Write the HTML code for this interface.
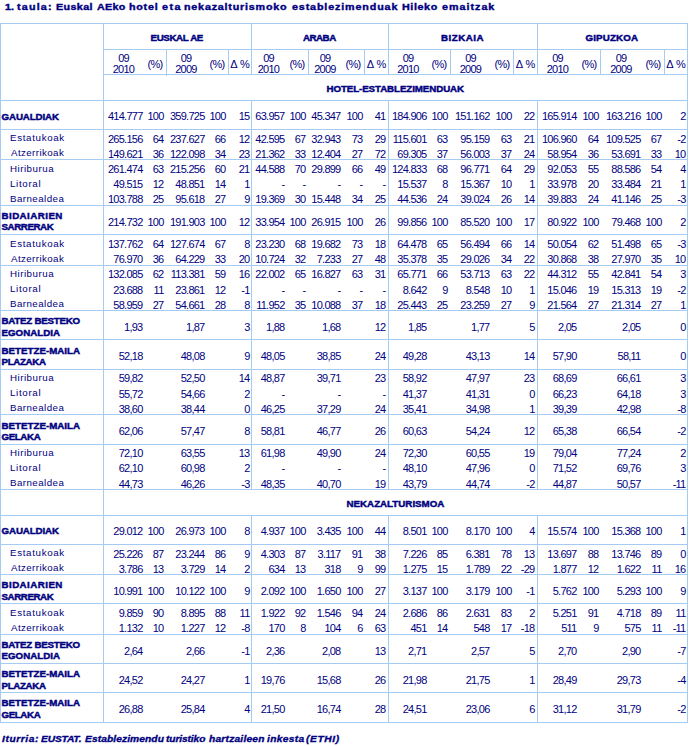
<!DOCTYPE html>
<html><head><meta charset="utf-8"><title>1. taula</title>
<style>
html,body{margin:0;padding:0;background:#fff;}
body{width:690px;height:746px;position:relative;overflow:hidden;font-family:"Liberation Sans",sans-serif;color:#000080;}
i{position:absolute;display:block;background:#a6cbf3;}
b{position:absolute;white-space:nowrap;font-size:11px;line-height:15px;font-weight:normal;}
b.ln{font-size:9.75px;}
b.lb{font-size:9.75px;font-weight:bold;-webkit-text-stroke-width:0.45px;}
b.title{font-size:9.75px;font-weight:bold;-webkit-text-stroke-width:0.4px;transform:scaleX(1.1);transform-origin:0 0;}
b.foot{font-size:9.75px;font-weight:bold;font-style:italic;-webkit-text-stroke-width:0.35px;transform:scaleX(1.05);transform-origin:0 0;}
</style></head><body>
<i style="left:0px;top:23px;width:688px;height:1px"></i>
<i style="left:1px;top:722px;width:687px;height:1px"></i>
<i style="left:0px;top:23px;width:1px;height:699px"></i>
<i style="left:687px;top:23px;width:1px;height:700px"></i>
<i style="left:103px;top:23px;width:1px;height:700px"></i>
<i style="left:251px;top:23px;width:1px;height:51px"></i>
<i style="left:251px;top:100px;width:1px;height:389px"></i>
<i style="left:251px;top:515px;width:1px;height:207px"></i>
<i style="left:388px;top:23px;width:1px;height:51px"></i>
<i style="left:388px;top:100px;width:1px;height:389px"></i>
<i style="left:388px;top:515px;width:1px;height:207px"></i>
<i style="left:537px;top:23px;width:1px;height:51px"></i>
<i style="left:537px;top:100px;width:1px;height:389px"></i>
<i style="left:537px;top:515px;width:1px;height:207px"></i>
<i style="left:103px;top:49px;width:585px;height:1px"></i>
<i style="left:103px;top:74px;width:585px;height:1px"></i>
<i style="left:0px;top:100px;width:688px;height:1px"></i>
<i style="left:166px;top:49px;width:1px;height:27px"></i>
<i style="left:228px;top:49px;width:1px;height:26px"></i>
<i style="left:308px;top:49px;width:1px;height:26px"></i>
<i style="left:364px;top:49px;width:1px;height:26px"></i>
<i style="left:450px;top:49px;width:1px;height:26px"></i>
<i style="left:513px;top:49px;width:1px;height:26px"></i>
<i style="left:600px;top:49px;width:1px;height:26px"></i>
<i style="left:664px;top:49px;width:1px;height:26px"></i>
<i style="left:0px;top:129px;width:688px;height:1px"></i>
<i style="left:0px;top:159px;width:688px;height:1px"></i>
<i style="left:0px;top:205px;width:688px;height:1px"></i>
<i style="left:0px;top:234px;width:688px;height:1px"></i>
<i style="left:0px;top:265px;width:688px;height:1px"></i>
<i style="left:0px;top:310px;width:688px;height:1px"></i>
<i style="left:0px;top:339px;width:688px;height:1px"></i>
<i style="left:0px;top:369px;width:688px;height:1px"></i>
<i style="left:0px;top:414px;width:688px;height:1px"></i>
<i style="left:0px;top:444px;width:688px;height:1px"></i>
<i style="left:0px;top:489px;width:688px;height:1px"></i>
<i style="left:0px;top:544px;width:688px;height:1px"></i>
<i style="left:0px;top:574px;width:688px;height:1px"></i>
<i style="left:0px;top:603px;width:688px;height:1px"></i>
<i style="left:0px;top:634px;width:688px;height:1px"></i>
<i style="left:0px;top:663px;width:688px;height:1px"></i>
<i style="left:0px;top:692px;width:688px;height:1px"></i>
<i style="left:0px;top:722px;width:688px;height:1px"></i>
<i style="left:0px;top:489px;width:688px;height:1px"></i>
<i style="left:0px;top:515px;width:688px;height:1px"></i>
<b class="title" style="top:-1px;letter-spacing:0.000px;left:5px;">1.</b>
<b class="title" style="top:-1px;letter-spacing:1.091px;left:17px;">taula:</b>
<b class="title" style="top:-1px;letter-spacing:0.364px;left:56px;">Euskal</b>
<b class="title" style="top:-1px;letter-spacing:0.303px;left:97px;">AEko</b>
<b class="title" style="top:-1px;letter-spacing:0.682px;left:129px;">hotel</b>
<b class="title" style="top:-1px;letter-spacing:1.364px;left:162px;">eta</b>
<b class="title" style="top:-1px;letter-spacing:0.727px;left:184px;">nekazalturismoko</b>
<b class="title" style="top:-1px;letter-spacing:0.788px;left:292px;">establezimenduak</b>
<b class="title" style="top:-1px;letter-spacing:0.545px;left:402px;">Hileko</b>
<b class="title" style="top:-1px;letter-spacing:0.909px;left:442px;">emaitzak</b>
<b class="foot" style="top:731px;letter-spacing:0.544px;left:2px;">Iturria:</b>
<b class="foot" style="top:731px;letter-spacing:-0.159px;left:41px;">EUSTAT.</b>
<b class="foot" style="top:731px;letter-spacing:0.073px;left:85px;">Establezimendu</b>
<b class="foot" style="top:731px;letter-spacing:-0.119px;left:166px;">turistiko</b>
<b class="foot" style="top:731px;letter-spacing:0.190px;left:209px;">hartzaileen</b>
<b class="foot" style="top:731px;letter-spacing:0.317px;left:267px;">inkesta</b>
<b class="foot" style="top:731px;letter-spacing:0.571px;left:306px;">(ETHI)</b>
<b class="lb" style="top:30px;letter-spacing:-0.375px;left:150.5px;">EUSKAL AE</b>
<b style="top:51px;left:73.5px;width:100px;text-align:center;letter-spacing:-0.75px;">09</b>
<b style="top:62px;left:73.5px;width:100px;text-align:center;letter-spacing:-0.75px;">2010</b>
<b style="top:57px;left:104.9px;width:100px;text-align:center;letter-spacing:-0.8px;">(%)</b>
<b style="top:51px;left:136.0px;width:100px;text-align:center;letter-spacing:-0.75px;">09</b>
<b style="top:62px;left:136.0px;width:100px;text-align:center;letter-spacing:-0.75px;">2009</b>
<b style="top:57px;left:166.9px;width:100px;text-align:center;letter-spacing:-0.8px;">(%)</b>
<b style="top:57px;left:190.0px;width:100px;text-align:center;">&Delta; %</b>
<b class="lb" style="top:30px;letter-spacing:-0.500px;left:303.0px;">ARABA</b>
<b style="top:51px;left:218.5px;width:100px;text-align:center;letter-spacing:-0.75px;">09</b>
<b style="top:62px;left:218.5px;width:100px;text-align:center;letter-spacing:-0.75px;">2010</b>
<b style="top:57px;left:246.9px;width:100px;text-align:center;letter-spacing:-0.8px;">(%)</b>
<b style="top:51px;left:275.0px;width:100px;text-align:center;letter-spacing:-0.75px;">09</b>
<b style="top:62px;left:275.0px;width:100px;text-align:center;letter-spacing:-0.75px;">2009</b>
<b style="top:57px;left:302.9px;width:100px;text-align:center;letter-spacing:-0.8px;">(%)</b>
<b style="top:57px;left:326.5px;width:100px;text-align:center;">&Delta; %</b>
<b class="lb" style="top:30px;letter-spacing:0.500px;left:441.0px;">BIZKAIA</b>
<b style="top:51px;left:358.0px;width:100px;text-align:center;letter-spacing:-0.75px;">09</b>
<b style="top:62px;left:358.0px;width:100px;text-align:center;letter-spacing:-0.75px;">2010</b>
<b style="top:57px;left:388.9px;width:100px;text-align:center;letter-spacing:-0.8px;">(%)</b>
<b style="top:51px;left:420.5px;width:100px;text-align:center;letter-spacing:-0.75px;">09</b>
<b style="top:62px;left:420.5px;width:100px;text-align:center;letter-spacing:-0.75px;">2009</b>
<b style="top:57px;left:451.9px;width:100px;text-align:center;letter-spacing:-0.8px;">(%)</b>
<b style="top:57px;left:475.5px;width:100px;text-align:center;">&Delta; %</b>
<b class="lb" style="top:30px;letter-spacing:0.143px;left:585.5px;">GIPUZKOA</b>
<b style="top:51px;left:507.5px;width:100px;text-align:center;letter-spacing:-0.75px;">09</b>
<b style="top:62px;left:507.5px;width:100px;text-align:center;letter-spacing:-0.75px;">2010</b>
<b style="top:57px;left:538.9px;width:100px;text-align:center;letter-spacing:-0.8px;">(%)</b>
<b style="top:51px;left:571.0px;width:100px;text-align:center;letter-spacing:-0.75px;">09</b>
<b style="top:62px;left:571.0px;width:100px;text-align:center;letter-spacing:-0.75px;">2009</b>
<b style="top:57px;left:602.9px;width:100px;text-align:center;letter-spacing:-0.8px;">(%)</b>
<b style="top:57px;left:626.0px;width:100px;text-align:center;">&Delta; %</b>
<b class="lb" style="top:81px;letter-spacing:-0.095px;left:326.5px;">HOTEL-ESTABLEZIMENDUAK</b>
<b class="lb" style="top:496px;letter-spacing:0.000px;left:346.5px;">NEKAZALTURISMOA</b>
<b class="lb" style="top:109px;letter-spacing:-0.125px;left:1.5px;">GAUALDIAK</b>
<b style="top:109px;right:547.5px;text-align:right;letter-spacing:-0.75px;">414.777</b>
<b style="top:109px;right:526.5px;text-align:right;letter-spacing:-0.75px;">100</b>
<b style="top:109px;right:485.5px;text-align:right;letter-spacing:-0.75px;">359.725</b>
<b style="top:109px;right:464.5px;text-align:right;letter-spacing:-0.75px;">100</b>
<b style="top:109px;right:440.5px;text-align:right;letter-spacing:-0.75px;">15</b>
<b style="top:109px;right:405.5px;text-align:right;letter-spacing:-0.75px;">63.957</b>
<b style="top:109px;right:384.5px;text-align:right;letter-spacing:-0.75px;">100</b>
<b style="top:109px;right:349.5px;text-align:right;letter-spacing:-0.75px;">45.347</b>
<b style="top:109px;right:327.5px;text-align:right;letter-spacing:-0.75px;">100</b>
<b style="top:109px;right:304.5px;text-align:right;letter-spacing:-0.75px;">41</b>
<b style="top:109px;right:263.5px;text-align:right;letter-spacing:-0.75px;">184.906</b>
<b style="top:109px;right:242.5px;text-align:right;letter-spacing:-0.75px;">100</b>
<b style="top:109px;right:200.5px;text-align:right;letter-spacing:-0.75px;">151.162</b>
<b style="top:109px;right:178.5px;text-align:right;letter-spacing:-0.75px;">100</b>
<b style="top:109px;right:155.5px;text-align:right;letter-spacing:-0.75px;">22</b>
<b style="top:109px;right:113.5px;text-align:right;letter-spacing:-0.75px;">165.914</b>
<b style="top:109px;right:91.5px;text-align:right;letter-spacing:-0.75px;">100</b>
<b style="top:109px;right:49.5px;text-align:right;letter-spacing:-0.75px;">163.216</b>
<b style="top:109px;right:28.5px;text-align:right;letter-spacing:-0.75px;">100</b>
<b style="top:109px;right:4.5px;text-align:right;letter-spacing:-0.75px;">2</b>
<b class="ln" style="top:130px;letter-spacing:0.667px;left:10px;">Estatukoak</b>
<b class="ln" style="top:145px;letter-spacing:0.400px;left:11px;">Atzerrikoak</b>
<b style="top:132px;right:547.5px;text-align:right;letter-spacing:-0.75px;">265.156</b>
<b style="top:132px;right:526.5px;text-align:right;letter-spacing:-0.75px;">64</b>
<b style="top:132px;right:485.5px;text-align:right;letter-spacing:-0.75px;">237.627</b>
<b style="top:132px;right:464.5px;text-align:right;letter-spacing:-0.75px;">66</b>
<b style="top:132px;right:440.5px;text-align:right;letter-spacing:-0.75px;">12</b>
<b style="top:132px;right:405.5px;text-align:right;letter-spacing:-0.75px;">42.595</b>
<b style="top:132px;right:384.5px;text-align:right;letter-spacing:-0.75px;">67</b>
<b style="top:132px;right:349.5px;text-align:right;letter-spacing:-0.75px;">32.943</b>
<b style="top:132px;right:327.5px;text-align:right;letter-spacing:-0.75px;">73</b>
<b style="top:132px;right:304.5px;text-align:right;letter-spacing:-0.75px;">29</b>
<b style="top:132px;right:263.5px;text-align:right;letter-spacing:-0.75px;">115.601</b>
<b style="top:132px;right:242.5px;text-align:right;letter-spacing:-0.75px;">63</b>
<b style="top:132px;right:200.5px;text-align:right;letter-spacing:-0.75px;">95.159</b>
<b style="top:132px;right:178.5px;text-align:right;letter-spacing:-0.75px;">63</b>
<b style="top:132px;right:155.5px;text-align:right;letter-spacing:-0.75px;">21</b>
<b style="top:132px;right:113.5px;text-align:right;letter-spacing:-0.75px;">106.960</b>
<b style="top:132px;right:91.5px;text-align:right;letter-spacing:-0.75px;">64</b>
<b style="top:132px;right:49.5px;text-align:right;letter-spacing:-0.75px;">109.525</b>
<b style="top:132px;right:28.5px;text-align:right;letter-spacing:-0.75px;">67</b>
<b style="top:132px;right:4.5px;text-align:right;letter-spacing:-0.75px;">-2</b>
<b style="top:147px;right:547.5px;text-align:right;letter-spacing:-0.75px;">149.621</b>
<b style="top:147px;right:526.5px;text-align:right;letter-spacing:-0.75px;">36</b>
<b style="top:147px;right:485.5px;text-align:right;letter-spacing:-0.75px;">122.098</b>
<b style="top:147px;right:464.5px;text-align:right;letter-spacing:-0.75px;">34</b>
<b style="top:147px;right:440.5px;text-align:right;letter-spacing:-0.75px;">23</b>
<b style="top:147px;right:405.5px;text-align:right;letter-spacing:-0.75px;">21.362</b>
<b style="top:147px;right:384.5px;text-align:right;letter-spacing:-0.75px;">33</b>
<b style="top:147px;right:349.5px;text-align:right;letter-spacing:-0.75px;">12.404</b>
<b style="top:147px;right:327.5px;text-align:right;letter-spacing:-0.75px;">27</b>
<b style="top:147px;right:304.5px;text-align:right;letter-spacing:-0.75px;">72</b>
<b style="top:147px;right:263.5px;text-align:right;letter-spacing:-0.75px;">69.305</b>
<b style="top:147px;right:242.5px;text-align:right;letter-spacing:-0.75px;">37</b>
<b style="top:147px;right:200.5px;text-align:right;letter-spacing:-0.75px;">56.003</b>
<b style="top:147px;right:178.5px;text-align:right;letter-spacing:-0.75px;">37</b>
<b style="top:147px;right:155.5px;text-align:right;letter-spacing:-0.75px;">24</b>
<b style="top:147px;right:113.5px;text-align:right;letter-spacing:-0.75px;">58.954</b>
<b style="top:147px;right:91.5px;text-align:right;letter-spacing:-0.75px;">36</b>
<b style="top:147px;right:49.5px;text-align:right;letter-spacing:-0.75px;">53.691</b>
<b style="top:147px;right:28.5px;text-align:right;letter-spacing:-0.75px;">33</b>
<b style="top:147px;right:4.5px;text-align:right;letter-spacing:-0.75px;">10</b>
<b class="ln" style="top:161px;letter-spacing:0.500px;left:10px;">Hiriburua</b>
<b class="ln" style="top:176px;letter-spacing:0.667px;left:10px;">Litoral</b>
<b class="ln" style="top:191px;letter-spacing:0.444px;left:10px;">Barnealdea</b>
<b style="top:162px;right:547.5px;text-align:right;letter-spacing:-0.75px;">261.474</b>
<b style="top:162px;right:526.5px;text-align:right;letter-spacing:-0.75px;">63</b>
<b style="top:162px;right:485.5px;text-align:right;letter-spacing:-0.75px;">215.256</b>
<b style="top:162px;right:464.5px;text-align:right;letter-spacing:-0.75px;">60</b>
<b style="top:162px;right:440.5px;text-align:right;letter-spacing:-0.75px;">21</b>
<b style="top:162px;right:405.5px;text-align:right;letter-spacing:-0.75px;">44.588</b>
<b style="top:162px;right:384.5px;text-align:right;letter-spacing:-0.75px;">70</b>
<b style="top:162px;right:349.5px;text-align:right;letter-spacing:-0.75px;">29.899</b>
<b style="top:162px;right:327.5px;text-align:right;letter-spacing:-0.75px;">66</b>
<b style="top:162px;right:304.5px;text-align:right;letter-spacing:-0.75px;">49</b>
<b style="top:162px;right:263.5px;text-align:right;letter-spacing:-0.75px;">124.833</b>
<b style="top:162px;right:242.5px;text-align:right;letter-spacing:-0.75px;">68</b>
<b style="top:162px;right:200.5px;text-align:right;letter-spacing:-0.75px;">96.771</b>
<b style="top:162px;right:178.5px;text-align:right;letter-spacing:-0.75px;">64</b>
<b style="top:162px;right:155.5px;text-align:right;letter-spacing:-0.75px;">29</b>
<b style="top:162px;right:113.5px;text-align:right;letter-spacing:-0.75px;">92.053</b>
<b style="top:162px;right:91.5px;text-align:right;letter-spacing:-0.75px;">55</b>
<b style="top:162px;right:49.5px;text-align:right;letter-spacing:-0.75px;">88.586</b>
<b style="top:162px;right:28.5px;text-align:right;letter-spacing:-0.75px;">54</b>
<b style="top:162px;right:4.5px;text-align:right;letter-spacing:-0.75px;">4</b>
<b style="top:177px;right:547.5px;text-align:right;letter-spacing:-0.75px;">49.515</b>
<b style="top:177px;right:526.5px;text-align:right;letter-spacing:-0.75px;">12</b>
<b style="top:177px;right:485.5px;text-align:right;letter-spacing:-0.75px;">48.851</b>
<b style="top:177px;right:464.5px;text-align:right;letter-spacing:-0.75px;">14</b>
<b style="top:177px;right:440.5px;text-align:right;letter-spacing:-0.75px;">1</b>
<b style="top:177px;right:405.5px;text-align:right;letter-spacing:-0.75px;">-</b>
<b style="top:177px;right:384.5px;text-align:right;letter-spacing:-0.75px;">-</b>
<b style="top:177px;right:349.5px;text-align:right;letter-spacing:-0.75px;">-</b>
<b style="top:177px;right:327.5px;text-align:right;letter-spacing:-0.75px;">-</b>
<b style="top:177px;right:304.5px;text-align:right;letter-spacing:-0.75px;">-</b>
<b style="top:177px;right:263.5px;text-align:right;letter-spacing:-0.75px;">15.537</b>
<b style="top:177px;right:242.5px;text-align:right;letter-spacing:-0.75px;">8</b>
<b style="top:177px;right:200.5px;text-align:right;letter-spacing:-0.75px;">15.367</b>
<b style="top:177px;right:178.5px;text-align:right;letter-spacing:-0.75px;">10</b>
<b style="top:177px;right:155.5px;text-align:right;letter-spacing:-0.75px;">1</b>
<b style="top:177px;right:113.5px;text-align:right;letter-spacing:-0.75px;">33.978</b>
<b style="top:177px;right:91.5px;text-align:right;letter-spacing:-0.75px;">20</b>
<b style="top:177px;right:49.5px;text-align:right;letter-spacing:-0.75px;">33.484</b>
<b style="top:177px;right:28.5px;text-align:right;letter-spacing:-0.75px;">21</b>
<b style="top:177px;right:4.5px;text-align:right;letter-spacing:-0.75px;">1</b>
<b style="top:192px;right:547.5px;text-align:right;letter-spacing:-0.75px;">103.788</b>
<b style="top:192px;right:526.5px;text-align:right;letter-spacing:-0.75px;">25</b>
<b style="top:192px;right:485.5px;text-align:right;letter-spacing:-0.75px;">95.618</b>
<b style="top:192px;right:464.5px;text-align:right;letter-spacing:-0.75px;">27</b>
<b style="top:192px;right:440.5px;text-align:right;letter-spacing:-0.75px;">9</b>
<b style="top:192px;right:405.5px;text-align:right;letter-spacing:-0.75px;">19.369</b>
<b style="top:192px;right:384.5px;text-align:right;letter-spacing:-0.75px;">30</b>
<b style="top:192px;right:349.5px;text-align:right;letter-spacing:-0.75px;">15.448</b>
<b style="top:192px;right:327.5px;text-align:right;letter-spacing:-0.75px;">34</b>
<b style="top:192px;right:304.5px;text-align:right;letter-spacing:-0.75px;">25</b>
<b style="top:192px;right:263.5px;text-align:right;letter-spacing:-0.75px;">44.536</b>
<b style="top:192px;right:242.5px;text-align:right;letter-spacing:-0.75px;">24</b>
<b style="top:192px;right:200.5px;text-align:right;letter-spacing:-0.75px;">39.024</b>
<b style="top:192px;right:178.5px;text-align:right;letter-spacing:-0.75px;">26</b>
<b style="top:192px;right:155.5px;text-align:right;letter-spacing:-0.75px;">14</b>
<b style="top:192px;right:113.5px;text-align:right;letter-spacing:-0.75px;">39.883</b>
<b style="top:192px;right:91.5px;text-align:right;letter-spacing:-0.75px;">24</b>
<b style="top:192px;right:49.5px;text-align:right;letter-spacing:-0.75px;">41.146</b>
<b style="top:192px;right:28.5px;text-align:right;letter-spacing:-0.75px;">25</b>
<b style="top:192px;right:4.5px;text-align:right;letter-spacing:-0.75px;">-3</b>
<b class="lb" style="top:208px;letter-spacing:0.444px;left:1.5px;">BIDAIARIEN</b>
<b class="lb" style="top:219px;letter-spacing:-0.429px;left:1.5px;">SARRERAK</b>
<b style="top:215px;right:547.5px;text-align:right;letter-spacing:-0.75px;">214.732</b>
<b style="top:215px;right:526.5px;text-align:right;letter-spacing:-0.75px;">100</b>
<b style="top:215px;right:485.5px;text-align:right;letter-spacing:-0.75px;">191.903</b>
<b style="top:215px;right:464.5px;text-align:right;letter-spacing:-0.75px;">100</b>
<b style="top:215px;right:440.5px;text-align:right;letter-spacing:-0.75px;">12</b>
<b style="top:215px;right:405.5px;text-align:right;letter-spacing:-0.75px;">33.954</b>
<b style="top:215px;right:384.5px;text-align:right;letter-spacing:-0.75px;">100</b>
<b style="top:215px;right:349.5px;text-align:right;letter-spacing:-0.75px;">26.915</b>
<b style="top:215px;right:327.5px;text-align:right;letter-spacing:-0.75px;">100</b>
<b style="top:215px;right:304.5px;text-align:right;letter-spacing:-0.75px;">26</b>
<b style="top:215px;right:263.5px;text-align:right;letter-spacing:-0.75px;">99.856</b>
<b style="top:215px;right:242.5px;text-align:right;letter-spacing:-0.75px;">100</b>
<b style="top:215px;right:200.5px;text-align:right;letter-spacing:-0.75px;">85.520</b>
<b style="top:215px;right:178.5px;text-align:right;letter-spacing:-0.75px;">100</b>
<b style="top:215px;right:155.5px;text-align:right;letter-spacing:-0.75px;">17</b>
<b style="top:215px;right:113.5px;text-align:right;letter-spacing:-0.75px;">80.922</b>
<b style="top:215px;right:91.5px;text-align:right;letter-spacing:-0.75px;">100</b>
<b style="top:215px;right:49.5px;text-align:right;letter-spacing:-0.75px;">79.468</b>
<b style="top:215px;right:28.5px;text-align:right;letter-spacing:-0.75px;">100</b>
<b style="top:215px;right:4.5px;text-align:right;letter-spacing:-0.75px;">2</b>
<b class="ln" style="top:236px;letter-spacing:0.667px;left:10px;">Estatukoak</b>
<b class="ln" style="top:251px;letter-spacing:0.400px;left:11px;">Atzerrikoak</b>
<b style="top:237px;right:547.5px;text-align:right;letter-spacing:-0.75px;">137.762</b>
<b style="top:237px;right:526.5px;text-align:right;letter-spacing:-0.75px;">64</b>
<b style="top:237px;right:485.5px;text-align:right;letter-spacing:-0.75px;">127.674</b>
<b style="top:237px;right:464.5px;text-align:right;letter-spacing:-0.75px;">67</b>
<b style="top:237px;right:440.5px;text-align:right;letter-spacing:-0.75px;">8</b>
<b style="top:237px;right:405.5px;text-align:right;letter-spacing:-0.75px;">23.230</b>
<b style="top:237px;right:384.5px;text-align:right;letter-spacing:-0.75px;">68</b>
<b style="top:237px;right:349.5px;text-align:right;letter-spacing:-0.75px;">19.682</b>
<b style="top:237px;right:327.5px;text-align:right;letter-spacing:-0.75px;">73</b>
<b style="top:237px;right:304.5px;text-align:right;letter-spacing:-0.75px;">18</b>
<b style="top:237px;right:263.5px;text-align:right;letter-spacing:-0.75px;">64.478</b>
<b style="top:237px;right:242.5px;text-align:right;letter-spacing:-0.75px;">65</b>
<b style="top:237px;right:200.5px;text-align:right;letter-spacing:-0.75px;">56.494</b>
<b style="top:237px;right:178.5px;text-align:right;letter-spacing:-0.75px;">66</b>
<b style="top:237px;right:155.5px;text-align:right;letter-spacing:-0.75px;">14</b>
<b style="top:237px;right:113.5px;text-align:right;letter-spacing:-0.75px;">50.054</b>
<b style="top:237px;right:91.5px;text-align:right;letter-spacing:-0.75px;">62</b>
<b style="top:237px;right:49.5px;text-align:right;letter-spacing:-0.75px;">51.498</b>
<b style="top:237px;right:28.5px;text-align:right;letter-spacing:-0.75px;">65</b>
<b style="top:237px;right:4.5px;text-align:right;letter-spacing:-0.75px;">-3</b>
<b style="top:252px;right:547.5px;text-align:right;letter-spacing:-0.75px;">76.970</b>
<b style="top:252px;right:526.5px;text-align:right;letter-spacing:-0.75px;">36</b>
<b style="top:252px;right:485.5px;text-align:right;letter-spacing:-0.75px;">64.229</b>
<b style="top:252px;right:464.5px;text-align:right;letter-spacing:-0.75px;">33</b>
<b style="top:252px;right:440.5px;text-align:right;letter-spacing:-0.75px;">20</b>
<b style="top:252px;right:405.5px;text-align:right;letter-spacing:-0.75px;">10.724</b>
<b style="top:252px;right:384.5px;text-align:right;letter-spacing:-0.75px;">32</b>
<b style="top:252px;right:349.5px;text-align:right;letter-spacing:-0.75px;">7.233</b>
<b style="top:252px;right:327.5px;text-align:right;letter-spacing:-0.75px;">27</b>
<b style="top:252px;right:304.5px;text-align:right;letter-spacing:-0.75px;">48</b>
<b style="top:252px;right:263.5px;text-align:right;letter-spacing:-0.75px;">35.378</b>
<b style="top:252px;right:242.5px;text-align:right;letter-spacing:-0.75px;">35</b>
<b style="top:252px;right:200.5px;text-align:right;letter-spacing:-0.75px;">29.026</b>
<b style="top:252px;right:178.5px;text-align:right;letter-spacing:-0.75px;">34</b>
<b style="top:252px;right:155.5px;text-align:right;letter-spacing:-0.75px;">22</b>
<b style="top:252px;right:113.5px;text-align:right;letter-spacing:-0.75px;">30.868</b>
<b style="top:252px;right:91.5px;text-align:right;letter-spacing:-0.75px;">38</b>
<b style="top:252px;right:49.5px;text-align:right;letter-spacing:-0.75px;">27.970</b>
<b style="top:252px;right:28.5px;text-align:right;letter-spacing:-0.75px;">35</b>
<b style="top:252px;right:4.5px;text-align:right;letter-spacing:-0.75px;">10</b>
<b class="ln" style="top:266px;letter-spacing:0.500px;left:10px;">Hiriburua</b>
<b class="ln" style="top:281px;letter-spacing:0.667px;left:10px;">Litoral</b>
<b class="ln" style="top:296px;letter-spacing:0.444px;left:10px;">Barnealdea</b>
<b style="top:267px;right:547.5px;text-align:right;letter-spacing:-0.75px;">132.085</b>
<b style="top:267px;right:526.5px;text-align:right;letter-spacing:-0.75px;">62</b>
<b style="top:267px;right:485.5px;text-align:right;letter-spacing:-0.75px;">113.381</b>
<b style="top:267px;right:464.5px;text-align:right;letter-spacing:-0.75px;">59</b>
<b style="top:267px;right:440.5px;text-align:right;letter-spacing:-0.75px;">16</b>
<b style="top:267px;right:405.5px;text-align:right;letter-spacing:-0.75px;">22.002</b>
<b style="top:267px;right:384.5px;text-align:right;letter-spacing:-0.75px;">65</b>
<b style="top:267px;right:349.5px;text-align:right;letter-spacing:-0.75px;">16.827</b>
<b style="top:267px;right:327.5px;text-align:right;letter-spacing:-0.75px;">63</b>
<b style="top:267px;right:304.5px;text-align:right;letter-spacing:-0.75px;">31</b>
<b style="top:267px;right:263.5px;text-align:right;letter-spacing:-0.75px;">65.771</b>
<b style="top:267px;right:242.5px;text-align:right;letter-spacing:-0.75px;">66</b>
<b style="top:267px;right:200.5px;text-align:right;letter-spacing:-0.75px;">53.713</b>
<b style="top:267px;right:178.5px;text-align:right;letter-spacing:-0.75px;">63</b>
<b style="top:267px;right:155.5px;text-align:right;letter-spacing:-0.75px;">22</b>
<b style="top:267px;right:113.5px;text-align:right;letter-spacing:-0.75px;">44.312</b>
<b style="top:267px;right:91.5px;text-align:right;letter-spacing:-0.75px;">55</b>
<b style="top:267px;right:49.5px;text-align:right;letter-spacing:-0.75px;">42.841</b>
<b style="top:267px;right:28.5px;text-align:right;letter-spacing:-0.75px;">54</b>
<b style="top:267px;right:4.5px;text-align:right;letter-spacing:-0.75px;">3</b>
<b style="top:283px;right:547.5px;text-align:right;letter-spacing:-0.75px;">23.688</b>
<b style="top:283px;right:526.5px;text-align:right;letter-spacing:-0.75px;">11</b>
<b style="top:283px;right:485.5px;text-align:right;letter-spacing:-0.75px;">23.861</b>
<b style="top:283px;right:464.5px;text-align:right;letter-spacing:-0.75px;">12</b>
<b style="top:283px;right:440.5px;text-align:right;letter-spacing:-0.75px;">-1</b>
<b style="top:283px;right:405.5px;text-align:right;letter-spacing:-0.75px;">-</b>
<b style="top:283px;right:384.5px;text-align:right;letter-spacing:-0.75px;">-</b>
<b style="top:283px;right:349.5px;text-align:right;letter-spacing:-0.75px;">-</b>
<b style="top:283px;right:327.5px;text-align:right;letter-spacing:-0.75px;">-</b>
<b style="top:283px;right:304.5px;text-align:right;letter-spacing:-0.75px;">-</b>
<b style="top:283px;right:263.5px;text-align:right;letter-spacing:-0.75px;">8.642</b>
<b style="top:283px;right:242.5px;text-align:right;letter-spacing:-0.75px;">9</b>
<b style="top:283px;right:200.5px;text-align:right;letter-spacing:-0.75px;">8.548</b>
<b style="top:283px;right:178.5px;text-align:right;letter-spacing:-0.75px;">10</b>
<b style="top:283px;right:155.5px;text-align:right;letter-spacing:-0.75px;">1</b>
<b style="top:283px;right:113.5px;text-align:right;letter-spacing:-0.75px;">15.046</b>
<b style="top:283px;right:91.5px;text-align:right;letter-spacing:-0.75px;">19</b>
<b style="top:283px;right:49.5px;text-align:right;letter-spacing:-0.75px;">15.313</b>
<b style="top:283px;right:28.5px;text-align:right;letter-spacing:-0.75px;">19</b>
<b style="top:283px;right:4.5px;text-align:right;letter-spacing:-0.75px;">-2</b>
<b style="top:298px;right:547.5px;text-align:right;letter-spacing:-0.75px;">58.959</b>
<b style="top:298px;right:526.5px;text-align:right;letter-spacing:-0.75px;">27</b>
<b style="top:298px;right:485.5px;text-align:right;letter-spacing:-0.75px;">54.661</b>
<b style="top:298px;right:464.5px;text-align:right;letter-spacing:-0.75px;">28</b>
<b style="top:298px;right:440.5px;text-align:right;letter-spacing:-0.75px;">8</b>
<b style="top:298px;right:405.5px;text-align:right;letter-spacing:-0.75px;">11.952</b>
<b style="top:298px;right:384.5px;text-align:right;letter-spacing:-0.75px;">35</b>
<b style="top:298px;right:349.5px;text-align:right;letter-spacing:-0.75px;">10.088</b>
<b style="top:298px;right:327.5px;text-align:right;letter-spacing:-0.75px;">37</b>
<b style="top:298px;right:304.5px;text-align:right;letter-spacing:-0.75px;">18</b>
<b style="top:298px;right:263.5px;text-align:right;letter-spacing:-0.75px;">25.443</b>
<b style="top:298px;right:242.5px;text-align:right;letter-spacing:-0.75px;">25</b>
<b style="top:298px;right:200.5px;text-align:right;letter-spacing:-0.75px;">23.259</b>
<b style="top:298px;right:178.5px;text-align:right;letter-spacing:-0.75px;">27</b>
<b style="top:298px;right:155.5px;text-align:right;letter-spacing:-0.75px;">9</b>
<b style="top:298px;right:113.5px;text-align:right;letter-spacing:-0.75px;">21.564</b>
<b style="top:298px;right:91.5px;text-align:right;letter-spacing:-0.75px;">27</b>
<b style="top:298px;right:49.5px;text-align:right;letter-spacing:-0.75px;">21.314</b>
<b style="top:298px;right:28.5px;text-align:right;letter-spacing:-0.75px;">27</b>
<b style="top:298px;right:4.5px;text-align:right;letter-spacing:-0.75px;">1</b>
<b class="lb" style="top:313px;letter-spacing:-0.250px;left:1.5px;">BATEZ BESTEKO</b>
<b class="lb" style="top:325px;letter-spacing:0.000px;left:1.5px;">EGONALDIA</b>
<b style="top:320px;right:547.5px;text-align:right;letter-spacing:-0.75px;">1,93</b>
<b style="top:320px;right:485.5px;text-align:right;letter-spacing:-0.75px;">1,87</b>
<b style="top:320px;right:440.5px;text-align:right;letter-spacing:-0.75px;">3</b>
<b style="top:320px;right:405.5px;text-align:right;letter-spacing:-0.75px;">1,88</b>
<b style="top:320px;right:349.5px;text-align:right;letter-spacing:-0.75px;">1,68</b>
<b style="top:320px;right:304.5px;text-align:right;letter-spacing:-0.75px;">12</b>
<b style="top:320px;right:263.5px;text-align:right;letter-spacing:-0.75px;">1,85</b>
<b style="top:320px;right:200.5px;text-align:right;letter-spacing:-0.75px;">1,77</b>
<b style="top:320px;right:155.5px;text-align:right;letter-spacing:-0.75px;">5</b>
<b style="top:320px;right:113.5px;text-align:right;letter-spacing:-0.75px;">2,05</b>
<b style="top:320px;right:49.5px;text-align:right;letter-spacing:-0.75px;">2,05</b>
<b style="top:320px;right:4.5px;text-align:right;letter-spacing:-0.75px;">0</b>
<b class="lb" style="top:343px;letter-spacing:0.000px;left:1.5px;">BETETZE-MAILA</b>
<b class="lb" style="top:354px;letter-spacing:-0.333px;left:1.5px;">PLAZAKA</b>
<b style="top:349px;right:547.5px;text-align:right;letter-spacing:-0.75px;">52,18</b>
<b style="top:349px;right:485.5px;text-align:right;letter-spacing:-0.75px;">48,08</b>
<b style="top:349px;right:440.5px;text-align:right;letter-spacing:-0.75px;">9</b>
<b style="top:349px;right:405.5px;text-align:right;letter-spacing:-0.75px;">48,05</b>
<b style="top:349px;right:349.5px;text-align:right;letter-spacing:-0.75px;">38,85</b>
<b style="top:349px;right:304.5px;text-align:right;letter-spacing:-0.75px;">24</b>
<b style="top:349px;right:263.5px;text-align:right;letter-spacing:-0.75px;">49,28</b>
<b style="top:349px;right:200.5px;text-align:right;letter-spacing:-0.75px;">43,13</b>
<b style="top:349px;right:155.5px;text-align:right;letter-spacing:-0.75px;">14</b>
<b style="top:349px;right:113.5px;text-align:right;letter-spacing:-0.75px;">57,90</b>
<b style="top:349px;right:49.5px;text-align:right;letter-spacing:-0.75px;">58,11</b>
<b style="top:349px;right:4.5px;text-align:right;letter-spacing:-0.75px;">0</b>
<b class="ln" style="top:370px;letter-spacing:0.500px;left:10px;">Hiriburua</b>
<b class="ln" style="top:385px;letter-spacing:0.667px;left:10px;">Litoral</b>
<b class="ln" style="top:400px;letter-spacing:0.444px;left:10px;">Barnealdea</b>
<b style="top:371px;right:547.5px;text-align:right;letter-spacing:-0.75px;">59,82</b>
<b style="top:371px;right:485.5px;text-align:right;letter-spacing:-0.75px;">52,50</b>
<b style="top:371px;right:440.5px;text-align:right;letter-spacing:-0.75px;">14</b>
<b style="top:371px;right:405.5px;text-align:right;letter-spacing:-0.75px;">48,87</b>
<b style="top:371px;right:349.5px;text-align:right;letter-spacing:-0.75px;">39,71</b>
<b style="top:371px;right:304.5px;text-align:right;letter-spacing:-0.75px;">23</b>
<b style="top:371px;right:263.5px;text-align:right;letter-spacing:-0.75px;">58,92</b>
<b style="top:371px;right:200.5px;text-align:right;letter-spacing:-0.75px;">47,97</b>
<b style="top:371px;right:155.5px;text-align:right;letter-spacing:-0.75px;">23</b>
<b style="top:371px;right:113.5px;text-align:right;letter-spacing:-0.75px;">68,69</b>
<b style="top:371px;right:49.5px;text-align:right;letter-spacing:-0.75px;">66,61</b>
<b style="top:371px;right:4.5px;text-align:right;letter-spacing:-0.75px;">3</b>
<b style="top:387px;right:547.5px;text-align:right;letter-spacing:-0.75px;">55,72</b>
<b style="top:387px;right:485.5px;text-align:right;letter-spacing:-0.75px;">54,66</b>
<b style="top:387px;right:440.5px;text-align:right;letter-spacing:-0.75px;">2</b>
<b style="top:387px;right:405.5px;text-align:right;letter-spacing:-0.75px;">-</b>
<b style="top:387px;right:349.5px;text-align:right;letter-spacing:-0.75px;">-</b>
<b style="top:387px;right:304.5px;text-align:right;letter-spacing:-0.75px;">-</b>
<b style="top:387px;right:263.5px;text-align:right;letter-spacing:-0.75px;">41,37</b>
<b style="top:387px;right:200.5px;text-align:right;letter-spacing:-0.75px;">41,31</b>
<b style="top:387px;right:155.5px;text-align:right;letter-spacing:-0.75px;">0</b>
<b style="top:387px;right:113.5px;text-align:right;letter-spacing:-0.75px;">66,23</b>
<b style="top:387px;right:49.5px;text-align:right;letter-spacing:-0.75px;">64,18</b>
<b style="top:387px;right:4.5px;text-align:right;letter-spacing:-0.75px;">3</b>
<b style="top:402px;right:547.5px;text-align:right;letter-spacing:-0.75px;">38,60</b>
<b style="top:402px;right:485.5px;text-align:right;letter-spacing:-0.75px;">38,44</b>
<b style="top:402px;right:440.5px;text-align:right;letter-spacing:-0.75px;">0</b>
<b style="top:402px;right:405.5px;text-align:right;letter-spacing:-0.75px;">46,25</b>
<b style="top:402px;right:349.5px;text-align:right;letter-spacing:-0.75px;">37,29</b>
<b style="top:402px;right:304.5px;text-align:right;letter-spacing:-0.75px;">24</b>
<b style="top:402px;right:263.5px;text-align:right;letter-spacing:-0.75px;">35,41</b>
<b style="top:402px;right:200.5px;text-align:right;letter-spacing:-0.75px;">34,98</b>
<b style="top:402px;right:155.5px;text-align:right;letter-spacing:-0.75px;">1</b>
<b style="top:402px;right:113.5px;text-align:right;letter-spacing:-0.75px;">39,39</b>
<b style="top:402px;right:49.5px;text-align:right;letter-spacing:-0.75px;">42,98</b>
<b style="top:402px;right:4.5px;text-align:right;letter-spacing:-0.75px;">-8</b>
<b class="lb" style="top:418px;letter-spacing:0.000px;left:1.5px;">BETETZE-MAILA</b>
<b class="lb" style="top:429px;letter-spacing:-0.400px;left:1.5px;">GELAKA</b>
<b style="top:424px;right:547.5px;text-align:right;letter-spacing:-0.75px;">62,06</b>
<b style="top:424px;right:485.5px;text-align:right;letter-spacing:-0.75px;">57,47</b>
<b style="top:424px;right:440.5px;text-align:right;letter-spacing:-0.75px;">8</b>
<b style="top:424px;right:405.5px;text-align:right;letter-spacing:-0.75px;">58,81</b>
<b style="top:424px;right:349.5px;text-align:right;letter-spacing:-0.75px;">46,77</b>
<b style="top:424px;right:304.5px;text-align:right;letter-spacing:-0.75px;">26</b>
<b style="top:424px;right:263.5px;text-align:right;letter-spacing:-0.75px;">60,63</b>
<b style="top:424px;right:200.5px;text-align:right;letter-spacing:-0.75px;">54,24</b>
<b style="top:424px;right:155.5px;text-align:right;letter-spacing:-0.75px;">12</b>
<b style="top:424px;right:113.5px;text-align:right;letter-spacing:-0.75px;">65,38</b>
<b style="top:424px;right:49.5px;text-align:right;letter-spacing:-0.75px;">66,54</b>
<b style="top:424px;right:4.5px;text-align:right;letter-spacing:-0.75px;">-2</b>
<b class="ln" style="top:445px;letter-spacing:0.500px;left:10px;">Hiriburua</b>
<b class="ln" style="top:460px;letter-spacing:0.667px;left:10px;">Litoral</b>
<b class="ln" style="top:475px;letter-spacing:0.444px;left:10px;">Barnealdea</b>
<b style="top:446px;right:547.5px;text-align:right;letter-spacing:-0.75px;">72,10</b>
<b style="top:446px;right:485.5px;text-align:right;letter-spacing:-0.75px;">63,55</b>
<b style="top:446px;right:440.5px;text-align:right;letter-spacing:-0.75px;">13</b>
<b style="top:446px;right:405.5px;text-align:right;letter-spacing:-0.75px;">61,98</b>
<b style="top:446px;right:349.5px;text-align:right;letter-spacing:-0.75px;">49,90</b>
<b style="top:446px;right:304.5px;text-align:right;letter-spacing:-0.75px;">24</b>
<b style="top:446px;right:263.5px;text-align:right;letter-spacing:-0.75px;">72,30</b>
<b style="top:446px;right:200.5px;text-align:right;letter-spacing:-0.75px;">60,55</b>
<b style="top:446px;right:155.5px;text-align:right;letter-spacing:-0.75px;">19</b>
<b style="top:446px;right:113.5px;text-align:right;letter-spacing:-0.75px;">79,04</b>
<b style="top:446px;right:49.5px;text-align:right;letter-spacing:-0.75px;">77,24</b>
<b style="top:446px;right:4.5px;text-align:right;letter-spacing:-0.75px;">2</b>
<b style="top:461px;right:547.5px;text-align:right;letter-spacing:-0.75px;">62,10</b>
<b style="top:461px;right:485.5px;text-align:right;letter-spacing:-0.75px;">60,98</b>
<b style="top:461px;right:440.5px;text-align:right;letter-spacing:-0.75px;">2</b>
<b style="top:461px;right:405.5px;text-align:right;letter-spacing:-0.75px;">-</b>
<b style="top:461px;right:349.5px;text-align:right;letter-spacing:-0.75px;">-</b>
<b style="top:461px;right:304.5px;text-align:right;letter-spacing:-0.75px;">-</b>
<b style="top:461px;right:263.5px;text-align:right;letter-spacing:-0.75px;">48,10</b>
<b style="top:461px;right:200.5px;text-align:right;letter-spacing:-0.75px;">47,96</b>
<b style="top:461px;right:155.5px;text-align:right;letter-spacing:-0.75px;">0</b>
<b style="top:461px;right:113.5px;text-align:right;letter-spacing:-0.75px;">71,52</b>
<b style="top:461px;right:49.5px;text-align:right;letter-spacing:-0.75px;">69,76</b>
<b style="top:461px;right:4.5px;text-align:right;letter-spacing:-0.75px;">3</b>
<b style="top:477px;right:547.5px;text-align:right;letter-spacing:-0.75px;">44,73</b>
<b style="top:477px;right:485.5px;text-align:right;letter-spacing:-0.75px;">46,26</b>
<b style="top:477px;right:440.5px;text-align:right;letter-spacing:-0.75px;">-3</b>
<b style="top:477px;right:405.5px;text-align:right;letter-spacing:-0.75px;">48,35</b>
<b style="top:477px;right:349.5px;text-align:right;letter-spacing:-0.75px;">40,70</b>
<b style="top:477px;right:304.5px;text-align:right;letter-spacing:-0.75px;">19</b>
<b style="top:477px;right:263.5px;text-align:right;letter-spacing:-0.75px;">43,79</b>
<b style="top:477px;right:200.5px;text-align:right;letter-spacing:-0.75px;">44,74</b>
<b style="top:477px;right:155.5px;text-align:right;letter-spacing:-0.75px;">-2</b>
<b style="top:477px;right:113.5px;text-align:right;letter-spacing:-0.75px;">44,87</b>
<b style="top:477px;right:49.5px;text-align:right;letter-spacing:-0.75px;">50,57</b>
<b style="top:477px;right:4.5px;text-align:right;letter-spacing:-0.75px;">-11</b>
<b class="lb" style="top:523px;letter-spacing:-0.125px;left:1.5px;">GAUALDIAK</b>
<b style="top:524px;right:547.5px;text-align:right;letter-spacing:-0.75px;">29.012</b>
<b style="top:524px;right:526.5px;text-align:right;letter-spacing:-0.75px;">100</b>
<b style="top:524px;right:485.5px;text-align:right;letter-spacing:-0.75px;">26.973</b>
<b style="top:524px;right:464.5px;text-align:right;letter-spacing:-0.75px;">100</b>
<b style="top:524px;right:440.5px;text-align:right;letter-spacing:-0.75px;">8</b>
<b style="top:524px;right:405.5px;text-align:right;letter-spacing:-0.75px;">4.937</b>
<b style="top:524px;right:384.5px;text-align:right;letter-spacing:-0.75px;">100</b>
<b style="top:524px;right:349.5px;text-align:right;letter-spacing:-0.75px;">3.435</b>
<b style="top:524px;right:327.5px;text-align:right;letter-spacing:-0.75px;">100</b>
<b style="top:524px;right:304.5px;text-align:right;letter-spacing:-0.75px;">44</b>
<b style="top:524px;right:263.5px;text-align:right;letter-spacing:-0.75px;">8.501</b>
<b style="top:524px;right:242.5px;text-align:right;letter-spacing:-0.75px;">100</b>
<b style="top:524px;right:200.5px;text-align:right;letter-spacing:-0.75px;">8.170</b>
<b style="top:524px;right:178.5px;text-align:right;letter-spacing:-0.75px;">100</b>
<b style="top:524px;right:155.5px;text-align:right;letter-spacing:-0.75px;">4</b>
<b style="top:524px;right:113.5px;text-align:right;letter-spacing:-0.75px;">15.574</b>
<b style="top:524px;right:91.5px;text-align:right;letter-spacing:-0.75px;">100</b>
<b style="top:524px;right:49.5px;text-align:right;letter-spacing:-0.75px;">15.368</b>
<b style="top:524px;right:28.5px;text-align:right;letter-spacing:-0.75px;">100</b>
<b style="top:524px;right:4.5px;text-align:right;letter-spacing:-0.75px;">1</b>
<b class="ln" style="top:545px;letter-spacing:0.667px;left:10px;">Estatukoak</b>
<b class="ln" style="top:560px;letter-spacing:0.400px;left:11px;">Atzerrikoak</b>
<b style="top:547px;right:547.5px;text-align:right;letter-spacing:-0.75px;">25.226</b>
<b style="top:547px;right:526.5px;text-align:right;letter-spacing:-0.75px;">87</b>
<b style="top:547px;right:485.5px;text-align:right;letter-spacing:-0.75px;">23.244</b>
<b style="top:547px;right:464.5px;text-align:right;letter-spacing:-0.75px;">86</b>
<b style="top:547px;right:440.5px;text-align:right;letter-spacing:-0.75px;">9</b>
<b style="top:547px;right:405.5px;text-align:right;letter-spacing:-0.75px;">4.303</b>
<b style="top:547px;right:384.5px;text-align:right;letter-spacing:-0.75px;">87</b>
<b style="top:547px;right:349.5px;text-align:right;letter-spacing:-0.75px;">3.117</b>
<b style="top:547px;right:327.5px;text-align:right;letter-spacing:-0.75px;">91</b>
<b style="top:547px;right:304.5px;text-align:right;letter-spacing:-0.75px;">38</b>
<b style="top:547px;right:263.5px;text-align:right;letter-spacing:-0.75px;">7.226</b>
<b style="top:547px;right:242.5px;text-align:right;letter-spacing:-0.75px;">85</b>
<b style="top:547px;right:200.5px;text-align:right;letter-spacing:-0.75px;">6.381</b>
<b style="top:547px;right:178.5px;text-align:right;letter-spacing:-0.75px;">78</b>
<b style="top:547px;right:155.5px;text-align:right;letter-spacing:-0.75px;">13</b>
<b style="top:547px;right:113.5px;text-align:right;letter-spacing:-0.75px;">13.697</b>
<b style="top:547px;right:91.5px;text-align:right;letter-spacing:-0.75px;">88</b>
<b style="top:547px;right:49.5px;text-align:right;letter-spacing:-0.75px;">13.746</b>
<b style="top:547px;right:28.5px;text-align:right;letter-spacing:-0.75px;">89</b>
<b style="top:547px;right:4.5px;text-align:right;letter-spacing:-0.75px;">0</b>
<b style="top:562px;right:547.5px;text-align:right;letter-spacing:-0.75px;">3.786</b>
<b style="top:562px;right:526.5px;text-align:right;letter-spacing:-0.75px;">13</b>
<b style="top:562px;right:485.5px;text-align:right;letter-spacing:-0.75px;">3.729</b>
<b style="top:562px;right:464.5px;text-align:right;letter-spacing:-0.75px;">14</b>
<b style="top:562px;right:440.5px;text-align:right;letter-spacing:-0.75px;">2</b>
<b style="top:562px;right:405.5px;text-align:right;letter-spacing:-0.75px;">634</b>
<b style="top:562px;right:384.5px;text-align:right;letter-spacing:-0.75px;">13</b>
<b style="top:562px;right:349.5px;text-align:right;letter-spacing:-0.75px;">318</b>
<b style="top:562px;right:327.5px;text-align:right;letter-spacing:-0.75px;">9</b>
<b style="top:562px;right:304.5px;text-align:right;letter-spacing:-0.75px;">99</b>
<b style="top:562px;right:263.5px;text-align:right;letter-spacing:-0.75px;">1.275</b>
<b style="top:562px;right:242.5px;text-align:right;letter-spacing:-0.75px;">15</b>
<b style="top:562px;right:200.5px;text-align:right;letter-spacing:-0.75px;">1.789</b>
<b style="top:562px;right:178.5px;text-align:right;letter-spacing:-0.75px;">22</b>
<b style="top:562px;right:155.5px;text-align:right;letter-spacing:-0.75px;">-29</b>
<b style="top:562px;right:113.5px;text-align:right;letter-spacing:-0.75px;">1.877</b>
<b style="top:562px;right:91.5px;text-align:right;letter-spacing:-0.75px;">12</b>
<b style="top:562px;right:49.5px;text-align:right;letter-spacing:-0.75px;">1.622</b>
<b style="top:562px;right:28.5px;text-align:right;letter-spacing:-0.75px;">11</b>
<b style="top:562px;right:4.5px;text-align:right;letter-spacing:-0.75px;">16</b>
<b class="lb" style="top:577px;letter-spacing:0.444px;left:1.5px;">BIDAIARIEN</b>
<b class="lb" style="top:589px;letter-spacing:-0.429px;left:1.5px;">SARRERAK</b>
<b style="top:584px;right:547.5px;text-align:right;letter-spacing:-0.75px;">10.991</b>
<b style="top:584px;right:526.5px;text-align:right;letter-spacing:-0.75px;">100</b>
<b style="top:584px;right:485.5px;text-align:right;letter-spacing:-0.75px;">10.122</b>
<b style="top:584px;right:464.5px;text-align:right;letter-spacing:-0.75px;">100</b>
<b style="top:584px;right:440.5px;text-align:right;letter-spacing:-0.75px;">9</b>
<b style="top:584px;right:405.5px;text-align:right;letter-spacing:-0.75px;">2.092</b>
<b style="top:584px;right:384.5px;text-align:right;letter-spacing:-0.75px;">100</b>
<b style="top:584px;right:349.5px;text-align:right;letter-spacing:-0.75px;">1.650</b>
<b style="top:584px;right:327.5px;text-align:right;letter-spacing:-0.75px;">100</b>
<b style="top:584px;right:304.5px;text-align:right;letter-spacing:-0.75px;">27</b>
<b style="top:584px;right:263.5px;text-align:right;letter-spacing:-0.75px;">3.137</b>
<b style="top:584px;right:242.5px;text-align:right;letter-spacing:-0.75px;">100</b>
<b style="top:584px;right:200.5px;text-align:right;letter-spacing:-0.75px;">3.179</b>
<b style="top:584px;right:178.5px;text-align:right;letter-spacing:-0.75px;">100</b>
<b style="top:584px;right:155.5px;text-align:right;letter-spacing:-0.75px;">-1</b>
<b style="top:584px;right:113.5px;text-align:right;letter-spacing:-0.75px;">5.762</b>
<b style="top:584px;right:91.5px;text-align:right;letter-spacing:-0.75px;">100</b>
<b style="top:584px;right:49.5px;text-align:right;letter-spacing:-0.75px;">5.293</b>
<b style="top:584px;right:28.5px;text-align:right;letter-spacing:-0.75px;">100</b>
<b style="top:584px;right:4.5px;text-align:right;letter-spacing:-0.75px;">9</b>
<b class="ln" style="top:605px;letter-spacing:0.667px;left:10px;">Estatukoak</b>
<b class="ln" style="top:620px;letter-spacing:0.400px;left:11px;">Atzerrikoak</b>
<b style="top:606px;right:547.5px;text-align:right;letter-spacing:-0.75px;">9.859</b>
<b style="top:606px;right:526.5px;text-align:right;letter-spacing:-0.75px;">90</b>
<b style="top:606px;right:485.5px;text-align:right;letter-spacing:-0.75px;">8.895</b>
<b style="top:606px;right:464.5px;text-align:right;letter-spacing:-0.75px;">88</b>
<b style="top:606px;right:440.5px;text-align:right;letter-spacing:-0.75px;">11</b>
<b style="top:606px;right:405.5px;text-align:right;letter-spacing:-0.75px;">1.922</b>
<b style="top:606px;right:384.5px;text-align:right;letter-spacing:-0.75px;">92</b>
<b style="top:606px;right:349.5px;text-align:right;letter-spacing:-0.75px;">1.546</b>
<b style="top:606px;right:327.5px;text-align:right;letter-spacing:-0.75px;">94</b>
<b style="top:606px;right:304.5px;text-align:right;letter-spacing:-0.75px;">24</b>
<b style="top:606px;right:263.5px;text-align:right;letter-spacing:-0.75px;">2.686</b>
<b style="top:606px;right:242.5px;text-align:right;letter-spacing:-0.75px;">86</b>
<b style="top:606px;right:200.5px;text-align:right;letter-spacing:-0.75px;">2.631</b>
<b style="top:606px;right:178.5px;text-align:right;letter-spacing:-0.75px;">83</b>
<b style="top:606px;right:155.5px;text-align:right;letter-spacing:-0.75px;">2</b>
<b style="top:606px;right:113.5px;text-align:right;letter-spacing:-0.75px;">5.251</b>
<b style="top:606px;right:91.5px;text-align:right;letter-spacing:-0.75px;">91</b>
<b style="top:606px;right:49.5px;text-align:right;letter-spacing:-0.75px;">4.718</b>
<b style="top:606px;right:28.5px;text-align:right;letter-spacing:-0.75px;">89</b>
<b style="top:606px;right:4.5px;text-align:right;letter-spacing:-0.75px;">11</b>
<b style="top:621px;right:547.5px;text-align:right;letter-spacing:-0.75px;">1.132</b>
<b style="top:621px;right:526.5px;text-align:right;letter-spacing:-0.75px;">10</b>
<b style="top:621px;right:485.5px;text-align:right;letter-spacing:-0.75px;">1.227</b>
<b style="top:621px;right:464.5px;text-align:right;letter-spacing:-0.75px;">12</b>
<b style="top:621px;right:440.5px;text-align:right;letter-spacing:-0.75px;">-8</b>
<b style="top:621px;right:405.5px;text-align:right;letter-spacing:-0.75px;">170</b>
<b style="top:621px;right:384.5px;text-align:right;letter-spacing:-0.75px;">8</b>
<b style="top:621px;right:349.5px;text-align:right;letter-spacing:-0.75px;">104</b>
<b style="top:621px;right:327.5px;text-align:right;letter-spacing:-0.75px;">6</b>
<b style="top:621px;right:304.5px;text-align:right;letter-spacing:-0.75px;">63</b>
<b style="top:621px;right:263.5px;text-align:right;letter-spacing:-0.75px;">451</b>
<b style="top:621px;right:242.5px;text-align:right;letter-spacing:-0.75px;">14</b>
<b style="top:621px;right:200.5px;text-align:right;letter-spacing:-0.75px;">548</b>
<b style="top:621px;right:178.5px;text-align:right;letter-spacing:-0.75px;">17</b>
<b style="top:621px;right:155.5px;text-align:right;letter-spacing:-0.75px;">-18</b>
<b style="top:621px;right:113.5px;text-align:right;letter-spacing:-0.75px;">511</b>
<b style="top:621px;right:91.5px;text-align:right;letter-spacing:-0.75px;">9</b>
<b style="top:621px;right:49.5px;text-align:right;letter-spacing:-0.75px;">575</b>
<b style="top:621px;right:28.5px;text-align:right;letter-spacing:-0.75px;">11</b>
<b style="top:621px;right:4.5px;text-align:right;letter-spacing:-0.75px;">-11</b>
<b class="lb" style="top:637px;letter-spacing:-0.250px;left:1.5px;">BATEZ BESTEKO</b>
<b class="lb" style="top:648px;letter-spacing:0.000px;left:1.5px;">EGONALDIA</b>
<b style="top:644px;right:547.5px;text-align:right;letter-spacing:-0.75px;">2,64</b>
<b style="top:644px;right:485.5px;text-align:right;letter-spacing:-0.75px;">2,66</b>
<b style="top:644px;right:440.5px;text-align:right;letter-spacing:-0.75px;">-1</b>
<b style="top:644px;right:405.5px;text-align:right;letter-spacing:-0.75px;">2,36</b>
<b style="top:644px;right:349.5px;text-align:right;letter-spacing:-0.75px;">2,08</b>
<b style="top:644px;right:304.5px;text-align:right;letter-spacing:-0.75px;">13</b>
<b style="top:644px;right:263.5px;text-align:right;letter-spacing:-0.75px;">2,71</b>
<b style="top:644px;right:200.5px;text-align:right;letter-spacing:-0.75px;">2,57</b>
<b style="top:644px;right:155.5px;text-align:right;letter-spacing:-0.75px;">5</b>
<b style="top:644px;right:113.5px;text-align:right;letter-spacing:-0.75px;">2,70</b>
<b style="top:644px;right:49.5px;text-align:right;letter-spacing:-0.75px;">2,90</b>
<b style="top:644px;right:4.5px;text-align:right;letter-spacing:-0.75px;">-7</b>
<b class="lb" style="top:666px;letter-spacing:0.000px;left:1.5px;">BETETZE-MAILA</b>
<b class="lb" style="top:678px;letter-spacing:-0.333px;left:1.5px;">PLAZAKA</b>
<b style="top:673px;right:547.5px;text-align:right;letter-spacing:-0.75px;">24,52</b>
<b style="top:673px;right:485.5px;text-align:right;letter-spacing:-0.75px;">24,27</b>
<b style="top:673px;right:440.5px;text-align:right;letter-spacing:-0.75px;">1</b>
<b style="top:673px;right:405.5px;text-align:right;letter-spacing:-0.75px;">19,76</b>
<b style="top:673px;right:349.5px;text-align:right;letter-spacing:-0.75px;">15,68</b>
<b style="top:673px;right:304.5px;text-align:right;letter-spacing:-0.75px;">26</b>
<b style="top:673px;right:263.5px;text-align:right;letter-spacing:-0.75px;">21,98</b>
<b style="top:673px;right:200.5px;text-align:right;letter-spacing:-0.75px;">21,75</b>
<b style="top:673px;right:155.5px;text-align:right;letter-spacing:-0.75px;">1</b>
<b style="top:673px;right:113.5px;text-align:right;letter-spacing:-0.75px;">28,49</b>
<b style="top:673px;right:49.5px;text-align:right;letter-spacing:-0.75px;">29,73</b>
<b style="top:673px;right:4.5px;text-align:right;letter-spacing:-0.75px;">-4</b>
<b class="lb" style="top:695px;letter-spacing:0.000px;left:1.5px;">BETETZE-MAILA</b>
<b class="lb" style="top:707px;letter-spacing:-0.400px;left:1.5px;">GELAKA</b>
<b style="top:702px;right:547.5px;text-align:right;letter-spacing:-0.75px;">26,88</b>
<b style="top:702px;right:485.5px;text-align:right;letter-spacing:-0.75px;">25,84</b>
<b style="top:702px;right:440.5px;text-align:right;letter-spacing:-0.75px;">4</b>
<b style="top:702px;right:405.5px;text-align:right;letter-spacing:-0.75px;">21,50</b>
<b style="top:702px;right:349.5px;text-align:right;letter-spacing:-0.75px;">16,74</b>
<b style="top:702px;right:304.5px;text-align:right;letter-spacing:-0.75px;">28</b>
<b style="top:702px;right:263.5px;text-align:right;letter-spacing:-0.75px;">24,51</b>
<b style="top:702px;right:200.5px;text-align:right;letter-spacing:-0.75px;">23,06</b>
<b style="top:702px;right:155.5px;text-align:right;letter-spacing:-0.75px;">6</b>
<b style="top:702px;right:113.5px;text-align:right;letter-spacing:-0.75px;">31,12</b>
<b style="top:702px;right:49.5px;text-align:right;letter-spacing:-0.75px;">31,79</b>
<b style="top:702px;right:4.5px;text-align:right;letter-spacing:-0.75px;">-2</b>
</body></html>
